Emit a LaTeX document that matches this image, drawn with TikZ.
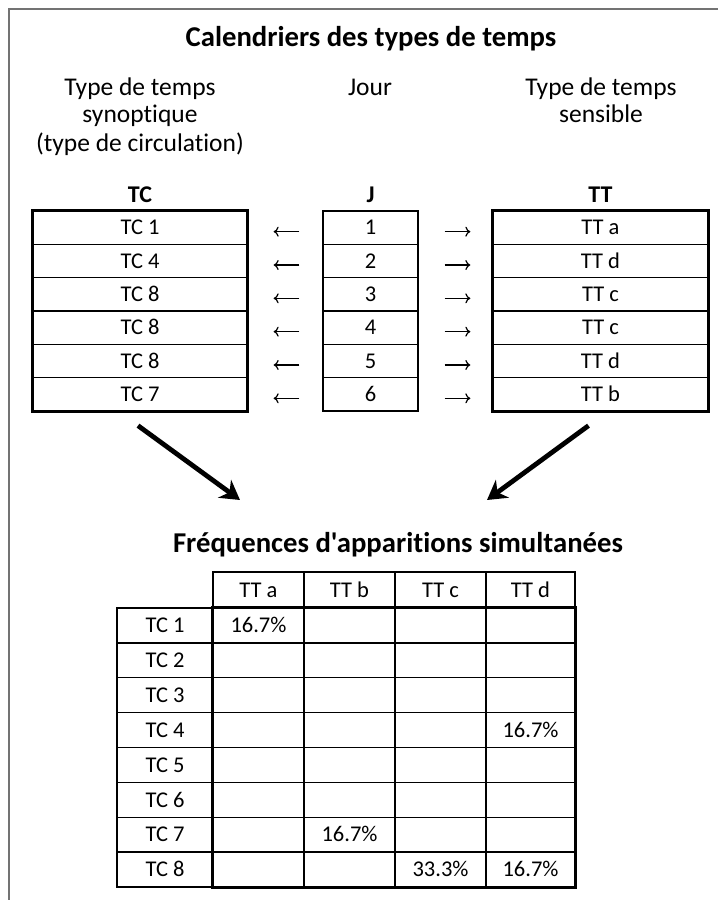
\documentclass[tikz,border=0pt]{standalone}
\usepackage{fontspec}
\setmainfont{Carlito}
\newfontfamily\calib{Carlito}[Ligatures=NoCommon]
\usetikzlibrary{arrows.meta}
\begin{document}
\begin{tikzpicture}[x=1pt,y=-1pt,
  base/.style={inner sep=0pt, text depth=0pt},
  txt/.style={base, text height=16.4pt, font=\calib\fontsize{25.5}{30}\selectfont},
  ttl/.style={base, text height=18.5pt, font=\calib\fontsize{28.7}{34}\selectfont\bfseries},
  hdr/.style={base, text height=15.5pt, font=\calib\fontsize{24}{28}\selectfont\bfseries},
  cell/.style={base, draw, line width=1.3pt, text height=14.5pt, font=\calib\fontsize{22.5}{27}\selectfont, minimum height=33.33pt},
  tcell/.style={base, draw, line width=1.3pt, text height=14.5pt, font=\calib\fontsize{22.5}{27}\selectfont, minimum height=34.875pt},
  val/.style={base, text height=14.5pt, font=\calib\fontsize{22.5}{27}\selectfont},
  thickbox/.style={line width=3pt},
  smallarrow/.style={line width=1.2pt, -{To[length=5pt,width=10pt]}},
  bigarrow/.style={line width=4.8pt, -{Stealth[length=19pt,width=22pt,inset=6pt]}},
  frameline/.style={line width=1.6pt, draw=black!55}
]
\useasboundingbox (0,0) rectangle (718,900);
\fill[white] (0,0) rectangle (718,900);
\draw[frameline] (9,900) -- (9,9) -- (718,9);

% Titles and labels
\node[ttl] (title) at (371,37) {Calendriers des types de temps};
\node[txt] (lA) at (140,87) {Type de temps};
\node[txt] (lB) at (140,114) {synoptique};
\node[txt] (lC) at (140,143) {(type de circulation)};
\node[txt] (jour) at (370,87) {Jour};
\node[txt] (rA) at (601,87) {Type de temps};
\node[txt] (rB) at (601,114) {sensible};

\node[hdr] (hTC) at (140,195) {TC};
\node[hdr] (hJ) at (370.5,195) {J};
\node[hdr] (hTT) at (600.5,195) {TT};

% Calendars
\foreach \i/\tc/\tt in {1/1/a,2/4/d,3/8/c,4/8/c,5/8/d,6/7/b}{
  \node[cell, minimum width=214pt] (tc\i) at (140,{227.67+33.33*(\i-1)}) {TC \tc};
  \node[cell, minimum width=95pt] (j\i) at (370.5,{227.67+33.33*(\i-1)}) {\i};
  \node[cell, minimum width=215pt] (tt\i) at (600.5,{227.67+33.33*(\i-1)}) {TT \tt};
  \draw[smallarrow, shorten <=23pt, shorten >=26pt] ([yshift=-4pt]j\i.west) -- ([yshift=-4pt]tc\i.east);
  \draw[smallarrow, shorten <=26pt, shorten >=22pt] ([yshift=-4pt]j\i.east) -- ([yshift=-4pt]tt\i.west);
}
\draw[thickbox] (tc1.north west) rectangle (tc6.south east);
\draw[thickbox] (tt1.north west) rectangle (tt6.south east);

% Big arrows
\coordinate (lt) at (240,500);
\coordinate (rt) at (487,500);
\draw[bigarrow] ([xshift=-2pt,yshift=-14pt]tc6.south) -- (lt);
\draw[bigarrow] ([xshift=-12pt,yshift=-14pt]tt6.south) -- (rt);

% Frequency table
\node[ttl] (title2) at (398,543) {Fréquences d'apparitions simultanées};

\foreach \c/\x/\w in {a/258.5/91,b/349.5/91,c/440.5/91,d/530.5/89}{
  \node[tcell, minimum width=\w pt, minimum height=36pt] (h\c) at (\x,590) {TT \c};
}
\foreach \r in {1,...,8}{
  \node[tcell, minimum width=96pt] (l\r) at (165,{625.44+34.875*(\r-1)}) {TC \r};
  \foreach \c/\x/\w in {a/258.5/91,b/349.5/91,c/440.5/91,d/530.5/89}{
    \node[tcell, minimum width=\w pt] (r\r\c) at (\x,{625.44+34.875*(\r-1)}) {};
  }
}
\draw[thickbox] (r1a.north west) rectangle (r8d.south east);

\node[val] (v1a) at (r1a) {16.7\%};
\node[val] (v4d) at (r4d) {16.7\%};
\node[val] (v7b) at (r7b) {16.7\%};
\node[val] (v8c) at (r8c) {33.3\%};
\node[val] (v8d) at (r8d) {16.7\%};
\end{tikzpicture}
\end{document}
